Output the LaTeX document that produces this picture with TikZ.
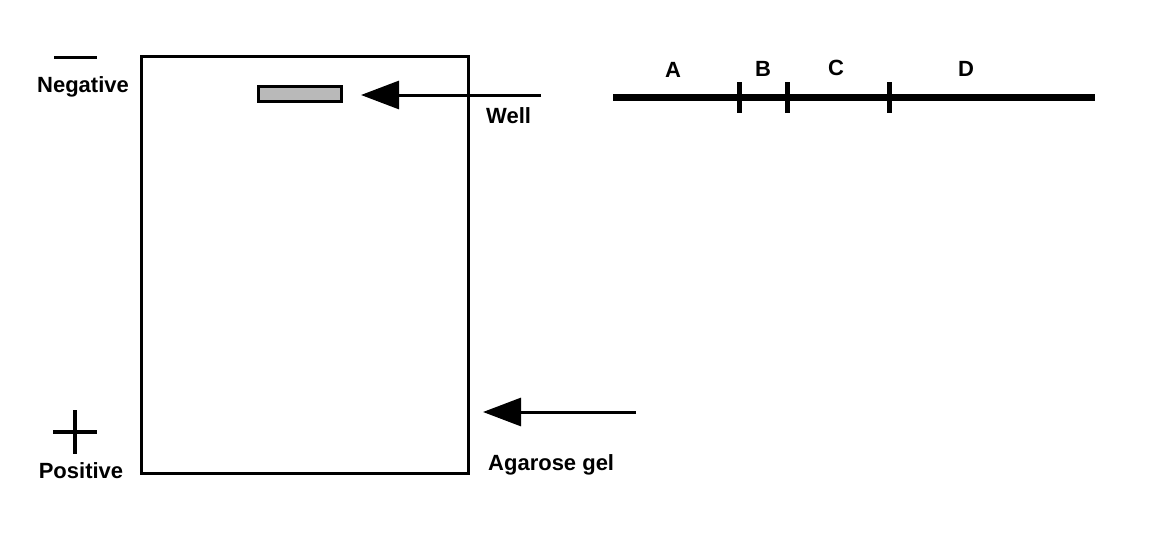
\documentclass[tikz,border=0pt]{standalone}
\usepackage{fontspec}
\setmainfont{Liberation Sans}
\usetikzlibrary{arrows.meta}
\begin{document}
\begin{tikzpicture}[x=1pt,y=-1pt,
  lbl/.style={font=\fontsize{22}{24}\selectfont\bfseries, inner sep=0pt},
  bigarrow/.style={line width=3pt, -{Triangle[length=38pt,width=28pt]}},
  tick/.style={line width=5pt}]
\useasboundingbox (0,0) rectangle (1164,546);
% gel
\node[draw, line width=3pt, minimum width=327pt, minimum height=417pt, inner sep=0pt, anchor=north west] (gel) at (140,55) {};
\node[draw, line width=3pt, fill=gray!55, minimum width=83pt, minimum height=15pt, inner sep=0pt, anchor=north west] (well) at (257,85) {};
% signs
\draw[line width=3pt] (54,57) -- (97,57);
\node[lbl] (neg) at (83,87) {Negative};
\draw[line width=4pt] (53,432) -- (97,432);
\draw[line width=4pt] (75,410) -- (75,454);
\node[lbl] (pos) at (81,471) {Positive};
% arrows
\coordinate (w1) at (541,95);
\coordinate (w2) at (361,95);
\draw[bigarrow] (w1) -- (w2);
\node[lbl, anchor=west] (welllbl) at (486,116) {Well};
\coordinate (g1) at (636,412);
\coordinate (g2) at (483,412);
\draw[bigarrow] (g1) -- (g2);
\node[lbl, anchor=west] (agar) at (488,465) {Agarose gel};
% map line
\coordinate (m1) at (613,97);
\coordinate (m2) at (1095,97);
\draw[line width=7pt] (m1) -- (m2);
\draw[tick] (739,82) -- (739,113);
\draw[tick] (787,82) -- (787,113);
\draw[tick] (889,82) -- (889,113);
\node[lbl] (A) at (673,70) {A};
\node[lbl] (B) at (763,69) {B};
\node[lbl] (C) at (836,68) {C};
\node[lbl] (D) at (966,69) {D};
\end{tikzpicture}
\end{document}
